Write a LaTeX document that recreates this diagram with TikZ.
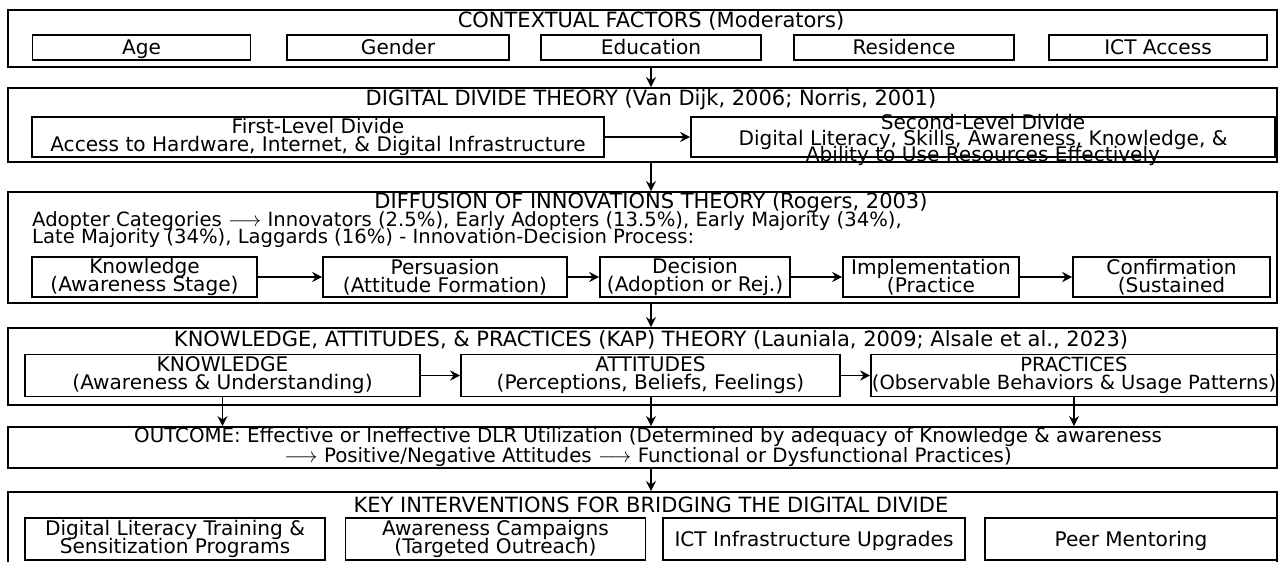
\documentclass[tikz,border=0pt]{standalone}
\usepackage{fontspec}
\setmainfont{DejaVu Sans}
\usetikzlibrary{arrows.meta}
\newcommand{\bodyfont}{\fontsize{20.1}{18}\selectfont\lineskiplimit=-100pt\lineskip=0pt}
\newcommand{\tightfont}{\fontsize{20.1}{16}\selectfont\lineskiplimit=-100pt\lineskip=0pt}
\newcommand{\wideline}{\fontsize{19.6}{17}\selectfont\lineskiplimit=-100pt\lineskip=0pt}
\tikzset{
  sec/.style={draw, line width=1.8pt, rectangle, inner sep=0pt},
  bx/.style={draw, line width=1.6pt, rectangle, inner sep=0pt, align=center, font=\bodyfont},
  sl/.style={text height=14.6pt, text depth=0pt},
  txt/.style={inner sep=0pt, align=center, font=\bodyfont},
  ttl/.style={inner sep=0pt, font=\fontsize{21}{21}\selectfont},
  arr/.style={-{Stealth[length=10pt,width=10pt]}, line width=1.8pt},
}
\begin{document}
\begin{tikzpicture}[x=1pt,y=-1pt]
\useasboundingbox (0,0) rectangle (1280,562);
\coordinate (cx) at (651,0);

% ---------- Section 1
\node[sec, minimum width=1269, minimum height=57] (s1) at (642.5,38.5) {};
\node[ttl] (t1) at (651,21) {CONTEXTUAL FACTORS (Moderators)};
\node[bx, sl, minimum width=218, minimum height=25] (age) at (141.5,47.5) {Age};
\node[bx, sl, minimum width=222, minimum height=25] (gen) at (398,47.5) {Gender};
\node[bx, sl, minimum width=220, minimum height=25] (edu) at (651,47.5) {Education};
\node[bx, sl, minimum width=220, minimum height=25] (res) at (904,47.5) {Residence};
\node[bx, sl, minimum width=218, minimum height=25] (ict) at (1158,47.5) {ICT Access};

% ---------- Section 2
\node[sec, minimum width=1269, minimum height=74] (s2) at (642.5,125) {};
\node[ttl] (t2) at (651,100) {DIGITAL DIVIDE THEORY (Van Dijk, 2006; Norris, 2001)};
\node[bx, minimum width=572, minimum height=40] (dd1) at (318,137)
  {First-Level Divide\\Access to Hardware, Internet, \& Digital Infrastructure};
\node[sec, line width=1.6pt, minimum width=584, minimum height=40] (dd2) at (983,137) {};
\node[txt, font=\tightfont] (dd2t) at (983,140)
  {Second-Level Divide\\Digital Literacy, Skills, Awareness, Knowledge, \&\\Ability to Use Resources Effectively};
\draw[arr] (dd1) -- (dd2);

% ---------- Section 3
\node[sec, minimum width=1269, minimum height=111] (s3) at (642.5,247.5) {};
\node[ttl] (t3) at (651,203) {DIFFUSION OF INNOVATIONS THEORY (Rogers, 2003)};
\node[txt, font=\wideline, align=left, anchor=west] (adopt) at (32,229.5)
  {Adopter Categories $\longrightarrow$ Innovators (2.5\%), Early Adopters (13.5\%), Early Majority (34\%),\\
   Late Majority (34\%), Laggards (16\%) - Innovation-Decision Process:};
\node[bx, minimum width=225, minimum height=40] (p1) at (144.5,277) {Knowledge\\(Awareness Stage)};
\node[bx, minimum width=244, minimum height=40] (p2) at (445,277) {Persuasion\\(Attitude Formation)};
\node[bx, minimum width=190, minimum height=40] (p3) at (695,277) {Decision\\(Adoption or Rej.)};
\node[bx, minimum width=176, minimum height=40] (p4) at (931,277) {Implementation\\(Practice};
\node[bx, minimum width=197, minimum height=40] (p5) at (1171.5,277) {Confirmation\\(Sustained};
\draw[arr] (p1) -- (p2);
\draw[arr] (p2) -- (p3);
\draw[arr] (p3) -- (p4);
\draw[arr] (p4) -- (p5);

% ---------- Section 4
\node[sec, minimum width=1269, minimum height=77] (s4) at (642.5,366.5) {};
\node[ttl] (t4) at (651,340) {KNOWLEDGE, ATTITUDES, \& PRACTICES (KAP) THEORY (Launiala, 2009; Alsale et al., 2023)};
\node[bx, minimum width=395, minimum height=42] (k1) at (222.5,375.5) {KNOWLEDGE\\(Awareness \& Understanding)};
\node[bx, minimum width=379, minimum height=42] (k2) at (650.5,375.5) {ATTITUDES\\(Perceptions, Beliefs, Feelings)};
\node[sec, line width=1.6pt, minimum width=406, minimum height=42] (k3) at (1074,375.5) {};
\node[txt, font=\fontsize{19.5}{18}\selectfont] (k3t) at (k3.center) {PRACTICES\\(Observable Behaviors \& Usage Patterns)};
\draw[arr] (k1) -- (k2);
\draw[arr] (k2) -- (k3);

% ---------- Outcome
\node[sec, minimum width=1269, minimum height=41] (out) at (642.5,447.5) {};
\node[txt, font=\fontsize{19.8}{19}\selectfont] (outt) at (648,447)
  {OUTCOME: Effective or Ineffective DLR Utilization (Determined by adequacy of Knowledge \& awareness\\
   $\longrightarrow$ Positive/Negative Attitudes $\longrightarrow$ Functional or Dysfunctional Practices)};
\draw[arr] (k1.south) -- (k1.south |- out.north);
\draw[arr] (k2.south -| cx) -- (out.north -| cx);
\draw[arr] (k3.south) -- (k3.south |- out.north);

% ---------- Section 6
\node[sec, minimum width=1269, minimum height=78] (s6) at (642.5,531) {};
\node[ttl] (t6) at (651,505) {KEY INTERVENTIONS FOR BRIDGING THE DIGITAL DIVIDE};
\node[bx, minimum width=300, minimum height=42] (i1) at (175,539) {Digital Literacy Training \&\\Sensitization Programs};
\node[bx, minimum width=300, minimum height=42] (i2) at (495.5,539) {Awareness Campaigns\\(Targeted Outreach)};
\node[bx, sl, minimum width=302, minimum height=42] (i3) at (814,539) {ICT Infrastructure Upgrades};
\node[bx, sl, minimum width=292, minimum height=42] (i4) at (1131,539) {Peer Mentoring};

% ---------- vertical connectors
\draw[arr] (s1.south -| cx) -- (s2.north -| cx);
\draw[arr] (s2.south -| cx) -- (s3.north -| cx);
\draw[arr] (s3.south -| cx) -- (s4.north -| cx);
\draw[arr] (out.south -| cx) -- (s6.north -| cx);
\end{tikzpicture}
\end{document}
